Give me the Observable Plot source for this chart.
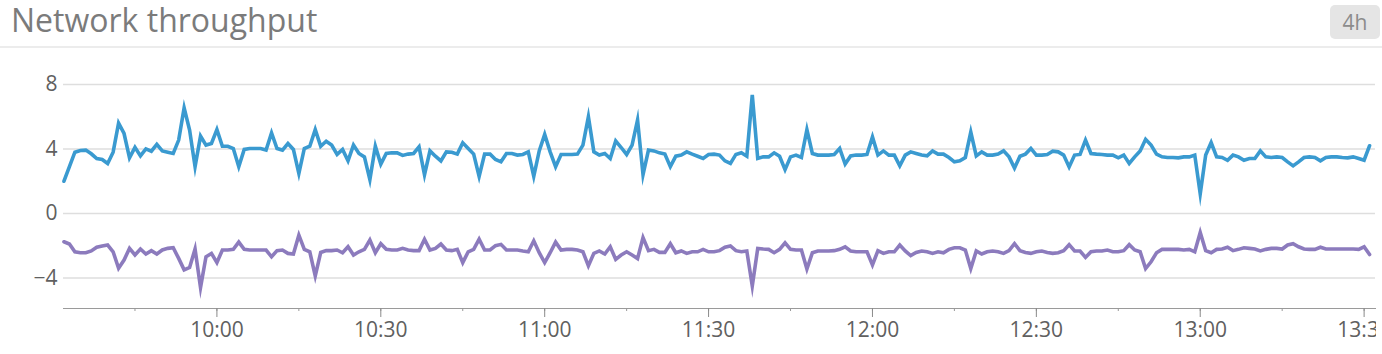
<!DOCTYPE html>
<html>
<head>
<meta charset="utf-8">
<script src="https://cdn.jsdelivr.net/npm/d3@7"></script>
<script src="https://cdn.jsdelivr.net/npm/@observablehq/plot@0.6"></script>
<style>
  html, body { margin: 0; padding: 0; background: #fff; }
  body { width: 1382px; height: 354px; overflow: hidden; position: relative; font-family: "Open Sans", sans-serif; }
  #header { position: absolute; left: 0; top: 0; width: 1382px; height: 46px; border-bottom: 2px solid #ececec; }
  #title { position: absolute; left: 11px; top: 4px; font-size: 32px; line-height: 32px; color: #7b7b7b; white-space: nowrap; }
  #badge { position: absolute; left: 1330px; top: 5px; width: 50px; height: 34px; border-radius: 5px; background: #e5e5e5; color: #8c8c8c; font-size: 21px; line-height: 34px; text-align: center; }
  #chart { position: absolute; left: 0; top: 48px; width: 1376px; height: 306px; overflow: hidden; }
</style>
</head>
<body>
<div id="header">
  <div id="title">Network throughput</div>
  <div id="badge">4h</div>
</div>
<div id="chart"></div>
<script>
// ---- data (one value per minute, starting 09:32) ----
const startTime = new Date(2024, 0, 1, 9, 32);
const stepMinutes = 1;

const inbound = [
  2.0, 2.9, 3.8, 3.9, 3.93, 3.7, 3.4, 3.35, 3.1, 3.8,
  5.6, 4.96, 3.45, 4.1, 3.57, 4.0, 3.86, 4.28, 3.88, 3.8,
  3.72, 4.55, 6.55, 5.17, 2.9, 4.8, 4.24, 4.34, 5.2, 4.17,
  4.17, 4.03, 2.9, 3.97, 4.03, 4.03, 4.03, 3.93, 5.0, 4.03,
  3.93, 4.34, 3.97, 2.48, 4.03, 4.17, 5.2, 4.17, 4.48, 4.24,
  3.66, 3.97, 3.26, 4.24, 3.72, 3.51, 2.1, 4.17, 3.06, 3.72,
  3.76, 3.76, 3.6, 3.68, 3.72, 4.13, 2.4, 3.88, 3.55, 3.26,
  3.82, 3.8, 3.68, 4.38, 4.03, 3.68, 2.3, 3.68, 3.68, 3.35,
  3.2, 3.72, 3.72, 3.62, 3.66, 3.82, 2.3, 3.88, 4.9, 3.82,
  2.9, 3.66, 3.66, 3.66, 3.68, 4.24, 6.0, 3.82, 3.62, 3.72,
  3.41, 4.5, 4.09, 3.66, 4.24, 5.8, 2.4, 3.93, 3.88, 3.76,
  3.68, 2.9, 3.55, 3.62, 3.82, 3.68, 3.55, 3.41, 3.66, 3.68,
  3.62, 3.26, 3.1, 3.66, 3.76, 3.55, 7.35, 3.41, 3.51, 3.51,
  3.76, 3.55, 2.72, 3.51, 3.62, 3.47, 5.2, 3.72, 3.62, 3.62,
  3.62, 3.66, 4.03, 3.06, 3.57, 3.62, 3.62, 3.66, 4.75, 3.62,
  3.88, 3.62, 3.62, 2.95, 3.62, 3.82, 3.72, 3.62, 3.57, 3.88,
  3.68, 3.68, 3.47, 3.2, 3.26, 3.47, 5.05, 3.57, 3.82, 3.62,
  3.62, 3.68, 3.88, 3.51, 2.82, 3.55, 3.68, 4.03, 3.62, 3.62,
  3.66, 3.86, 3.82, 3.62, 2.88, 3.62, 3.66, 4.55, 3.72, 3.68,
  3.66, 3.62, 3.62, 3.45, 3.62, 3.1, 3.51, 3.88, 4.6, 4.24,
  3.68, 3.51, 3.47, 3.47, 3.45, 3.51, 3.51, 3.62, 1.22, 3.62,
  4.4, 3.51, 3.47, 3.3, 3.62, 3.51, 3.3, 3.41, 3.41, 3.88,
  3.51, 3.47, 3.51, 3.47, 3.2, 2.95, 3.2, 3.47, 3.51, 3.47,
  3.26, 3.47, 3.51, 3.51, 3.47, 3.45, 3.51, 3.41, 3.3, 4.2
];

const outbound = [
  -1.76, -1.9, -2.38, -2.44, -2.44, -2.33, -2.1, -2.02, -1.96, -2.38,
  -3.4, -2.89, -2.17, -2.58, -2.21, -2.52, -2.31, -2.52, -2.27, -2.17,
  -2.13, -2.79, -3.5, -3.35, -2.21, -4.6, -2.69, -2.48, -3.05, -2.27,
  -2.27, -2.23, -1.78, -2.23, -2.27, -2.27, -2.27, -2.27, -2.69, -2.31,
  -2.27, -2.48, -2.52, -1.35, -2.23, -2.38, -3.88, -2.42, -2.31, -2.31,
  -2.27, -2.44, -2.07, -2.58, -2.38, -2.23, -1.65, -2.44, -1.88, -2.23,
  -2.27, -2.27, -2.17, -2.27, -2.31, -2.31, -1.6, -2.27, -2.17, -1.9,
  -2.27, -2.31, -2.23, -3.05, -2.38, -2.23, -1.6, -2.27, -2.27, -2.0,
  -1.92, -2.27, -2.27, -2.27, -2.33, -2.38, -1.7, -2.44, -3.05, -2.44,
  -1.78, -2.27, -2.23, -2.23, -2.27, -2.38, -3.25, -2.48, -2.33, -2.52,
  -2.07, -2.85, -2.58, -2.38, -2.58, -2.8, -1.5, -2.31, -2.23, -2.42,
  -2.42, -1.88, -2.44, -2.33, -2.48, -2.38, -2.38, -2.23, -2.38, -2.38,
  -2.31, -2.1, -2.02, -2.31, -2.38, -2.33, -4.5, -2.17, -2.21, -2.23,
  -2.44, -2.23, -1.82, -2.23, -2.27, -2.27, -3.45, -2.44, -2.33, -2.33,
  -2.33, -2.31, -2.23, -2.07, -2.33, -2.38, -2.38, -2.38, -3.2, -2.31,
  -2.48, -2.38, -2.38, -1.96, -2.33, -2.62, -2.42, -2.33, -2.38, -2.48,
  -2.38, -2.44, -2.23, -2.13, -2.13, -2.27, -3.42, -2.33, -2.52, -2.38,
  -2.33, -2.38, -2.48, -2.31, -1.88, -2.31, -2.42, -2.48, -2.38, -2.33,
  -2.42, -2.48, -2.44, -2.31, -1.94, -2.33, -2.33, -2.73, -2.38, -2.33,
  -2.33, -2.27, -2.38, -2.38, -2.31, -1.94, -2.27, -2.38, -3.42, -3.0,
  -2.44, -2.23, -2.23, -2.23, -2.23, -2.27, -2.23, -2.38, -1.18, -2.31,
  -2.44, -2.23, -2.21, -2.1, -2.31, -2.23, -2.13, -2.17, -2.21, -2.33,
  -2.23, -2.17, -2.17, -2.21, -1.96, -1.88, -2.07, -2.21, -2.23, -2.23,
  -2.1, -2.21, -2.21, -2.21, -2.21, -2.21, -2.21, -2.23, -2.07, -2.55
];

const yTicks = [-4, 0, 4, 8];
const yDomain = [-5.9, 8];
const xDomain = [new Date(2024, 0, 1, 9, 31, 55), new Date(2024, 0, 1, 13, 32, 5)];
const blueColor = "#3a9ad0";
const purpleColor = "#8c7bbd";

const times = inbound.map((_, i) => d3.timeMinute.offset(startTime, i * stepMinutes));
const inRows = inbound.map((v, i) => ({time: times[i], value: v}));
const outRows = outbound.map((v, i) => ({time: times[i], value: v}));

const chart = Plot.plot({
  width: 1376,
  height: 306,
  marginLeft: 63,
  marginRight: 1,
  marginTop: 36,
  marginBottom: 46,
  style: {fontFamily: "Open Sans, sans-serif", fontSize: "21px", color: "#606060", background: "transparent"},
  x: {type: "time", domain: xDomain, label: null},
  y: {domain: yDomain, label: null},
  marks: [
    Plot.gridY(yTicks, {stroke: "#dedede", strokeOpacity: 1, strokeWidth: 1.5}),
    Plot.axisY(yTicks, {tickSize: 0, tickPadding: 6, fontSize: 21, color: "#606060", label: null}),
    Plot.frame({anchor: "bottom", stroke: "#9a9a9a", strokeWidth: 1}),
    Plot.axisX({ticks: d3.timeMinute.every(15), tickSize: 3, tickFormat: () => "", stroke: "#9a9a9a", label: null}),
    Plot.axisX({ticks: d3.timeMinute.every(30), tickSize: 9, tickPadding: 5, tickFormat: d3.timeFormat("%H:%M"), fontSize: 21, color: "#606060", stroke: "#8a8a8a", label: null}),
    Plot.lineY(outRows, {x: "time", y: "value", stroke: purpleColor, strokeWidth: 3.6, strokeLinejoin: "miter", strokeMiterlimit: 8}),
    Plot.lineY(inRows, {x: "time", y: "value", stroke: blueColor, strokeWidth: 3.6, strokeLinejoin: "miter", strokeMiterlimit: 8})
  ]
});
document.getElementById("chart").appendChild(chart);
</script>
</body>
</html>
